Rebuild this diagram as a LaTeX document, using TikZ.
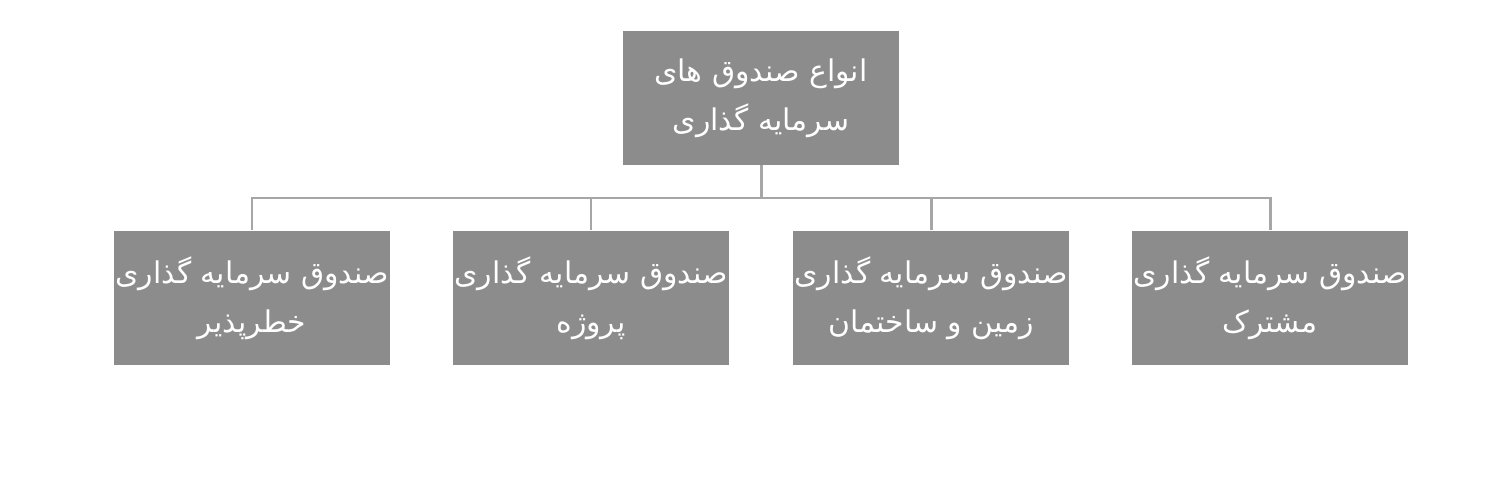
\documentclass[tikz,border=0pt]{standalone}
\usepackage{fontspec}
\newfontfamily\arabicfont[Script=Arabic]{DejaVu Sans}
\TeXXeTstate=1
\usetikzlibrary{calc}
\definecolor{boxgray}{RGB}{140,140,140}
\definecolor{linkgray}{RGB}{166,166,166}
\tikzset{
  fundbox/.style={fill=boxgray,text=white,minimum width=5.52cm,minimum height=2.7cm,
    align=center,inner sep=0pt,font=\arabicfont\fontsize{17}{28}\selectfont},
  link/.style={draw=linkgray,line width=1.7pt}
}

\begin{document}
\begin{tikzpicture}[x=0.02cm,y=-0.02cm]
% Page frame, same size as the reference
\useasboundingbox (0,0) rectangle (1488,484);
% Top box
\node [fundbox,minimum height=2.68cm] (root) at (761,98) {\beginR انواع صندوق های\endR\\\beginR سرمایه گذاری\endR};
% The four funds, right to left
\node [fundbox] (common) at (1270,298) {\beginR صندوق سرمایه گذاری\endR\\\beginR مشترک\endR};
\node [fundbox] (land) at (931,298) {\beginR صندوق سرمایه گذاری\endR\\\beginR زمین و ساختمان\endR};
\node [fundbox] (project) at (591,298) {\beginR صندوق سرمایه گذاری\endR\\\beginR پروژه\endR};
\node [fundbox] (venture) at (252,298) {\beginR صندوق سرمایه گذاری\endR\\\beginR خطرپذیر\endR};
% Height of the horizontal bar
\coordinate (bus) at (761,198);
% Connectors
\draw [link] (root.south) -- (root.south |- bus);
\draw [link] (venture.north) |- (common.north |- bus) -- (common.north);
\draw [link] (project.north) -- (project.north |- bus);
\draw [link] (land.north) -- (land.north |- bus);
\end{tikzpicture}
\end{document}
